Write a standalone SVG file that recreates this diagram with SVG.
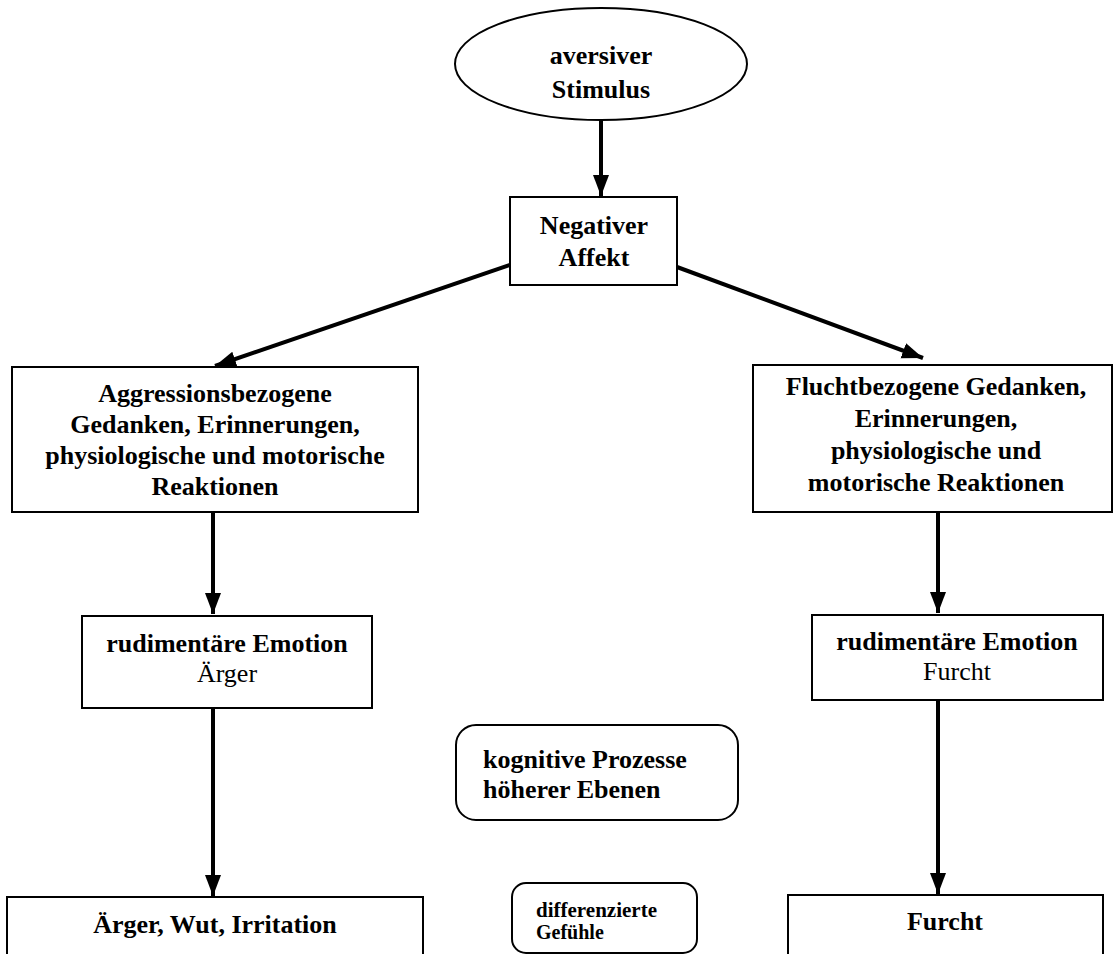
<svg xmlns="http://www.w3.org/2000/svg" width="1117" height="954" viewBox="0 0 1117 954">
<style>
.box{fill:#fff;stroke:#000;stroke-width:2}
.t{font-family:"Liberation Serif","Times New Roman",serif;font-size:26px;fill:#000;text-anchor:middle}
.b{font-weight:bold}
.s{text-anchor:start}
.c{stroke:#000;stroke-width:4;fill:none}
</style>
<defs>
<marker id="ah" markerUnits="userSpaceOnUse" markerWidth="22" markerHeight="18" viewBox="0 0 22 18" refX="21" refY="9" orient="auto">
<path d="M0,1 L21,9 L0,17 Z" fill="#000"/>
</marker>
</defs>
<rect width="1117" height="954" fill="#fff"/>
<g id="connectors">
<line class="c" x1="601" y1="120" x2="601" y2="196" marker-end="url(#ah)"/>
<line class="c" x1="510" y1="265" x2="215" y2="366" marker-end="url(#ah)"/>
<line class="c" x1="677" y1="267" x2="923" y2="358" marker-end="url(#ah)"/>
<line class="c" x1="213" y1="512" x2="213" y2="614" marker-end="url(#ah)"/>
<line class="c" x1="938" y1="512" x2="938" y2="613" marker-end="url(#ah)"/>
<line class="c" x1="213" y1="708" x2="213" y2="896" marker-end="url(#ah)"/>
<line class="c" x1="938" y1="700" x2="938" y2="894" marker-end="url(#ah)"/>
</g>
<g id="stimulus">
<ellipse class="box" cx="601" cy="64" rx="146" ry="56"/>
<text class="t b" x="601" y="64">aversiver</text>
<text class="t b" x="601" y="98">Stimulus</text>
</g>
<g id="affekt">
<rect class="box" x="510" y="197" width="167" height="88"/>
<text class="t b" x="594" y="234">Negativer</text>
<text class="t b" x="594" y="266">Affekt</text>
</g>
<g id="aggression">
<rect class="box" x="12" y="367" width="406" height="145"/>
<text class="t b" x="215" y="402">Aggressionsbezogene</text>
<text class="t b" x="215" y="433">Gedanken, Erinnerungen,</text>
<text class="t b" x="215" y="464">physiologische und motorische</text>
<text class="t b" x="215" y="495">Reaktionen</text>
</g>
<g id="flucht">
<rect class="box" x="753" y="365" width="359" height="147"/>
<text class="t b" x="936" y="395">Fluchtbezogene Gedanken,</text>
<text class="t b" x="936" y="427">Erinnerungen,</text>
<text class="t b" x="936" y="459">physiologische und</text>
<text class="t b" x="936" y="491">motorische Reaktionen</text>
</g>
<g id="rud-aerger">
<rect class="box" x="82" y="616" width="290" height="92"/>
<text class="t b" x="227" y="652">rudimentäre Emotion</text>
<text class="t" x="227" y="682">Ärger</text>
</g>
<g id="rud-furcht">
<rect class="box" x="812" y="615" width="291" height="85"/>
<text class="t b" x="957" y="650">rudimentäre Emotion</text>
<text class="t" x="957" y="680">Furcht</text>
</g>
<g id="kognitiv">
<rect class="box" x="456" y="725" width="282" height="95" rx="20" ry="20"/>
<text class="t b s" x="483" y="768">kognitive Prozesse</text>
<text class="t b s" x="483" y="798">höherer Ebenen</text>
</g>
<g id="differenziert">
<rect class="box" x="512" y="883" width="185" height="70" rx="14" ry="14"/>
<text class="t b s" x="536" y="917" style="font-size:20px" textLength="121" lengthAdjust="spacingAndGlyphs">differenzierte</text>
<text class="t b s" x="536" y="939" style="font-size:20px">Gefühle</text>
</g>
<g id="aerger-wut">
<rect class="box" x="7" y="897" width="416" height="70"/>
<text class="t b" x="215" y="933">Ärger, Wut, Irritation</text>
</g>
<g id="furcht">
<rect class="box" x="788" y="895" width="315" height="70"/>
<text class="t b" x="945" y="930">Furcht</text>
</g>
</svg>
